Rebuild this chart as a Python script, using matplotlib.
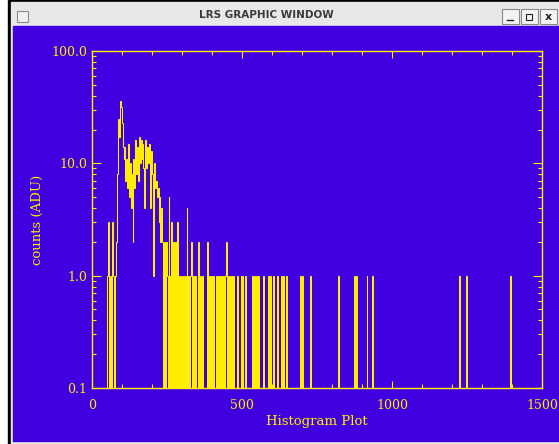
import numpy as np
import matplotlib
matplotlib.use("Agg")
import matplotlib.pyplot as plt
from matplotlib.patches import Rectangle
from matplotlib.ticker import MultipleLocator, LogLocator, NullFormatter

BLUE = "#4000e0"
YELLOW = "#ffee00"

# histogram: 3 ADU bins from 0 to 1500
bin_width = 3
x_max = 1500

# counts for the bins starting at 45 ADU (one value per bin)
dense_start = 45
dense_counts = [
    0, 0, 1, 3, 0, 1, 0, 3, 1, 0,
    0, 1, 2, 8, 25, 17, 36, 32, 23, 14,
    11, 14, 7, 11, 6, 15, 5, 10, 4, 8,
    2, 11, 6, 16, 8, 14, 7, 17, 10, 16,
    11, 15, 9, 4, 16, 9, 14, 10, 15, 4,
    9, 13, 8, 1, 10, 6, 7, 5, 6, 3,
    5, 2, 4, 2, 0, 2, 0, 2, 1, 0,
    5, 1, 0, 3, 0, 2, 0, 2, 0, 3,
    0, 1, 0, 1, 0, 1, 0, 1, 0, 1,
    4, 0, 1, 0, 1, 2, 0, 1, 0, 1,
    0, 0, 0, 2, 0, 1, 0, 1, 0, 0,
    0, 0, 0, 2, 0, 1, 0, 1, 0, 1,
    0, 0, 0, 1, 0, 1, 0, 1, 0, 1,
    0, 1, 0, 1, 2, 0, 1, 0, 1, 0,
    1, 0, 1, 0, 0, 0, 1, 0, 0, 0,
    1, 0, 1, 0,
]

# sparse tail: isolated bins (start ADU) and their counts
tail_adu = [510, 534, 540, 546, 552, 570, 588, 594, 603, 618, 630, 636,
            648, 693, 699, 726, 819, 873, 879, 915, 933, 1224, 1248, 1392]
tail_counts = [1] * len(tail_adu)

ytick_vals = [0.1, 1, 10, 100]
ytick_labels = ["0.1", "1.0", "10.0", "100.0"]
xtick_vals = [0, 500, 1000, 1500]

edges = np.arange(0, x_max + bin_width, bin_width)
counts = np.zeros(len(edges) - 1)
i0 = dense_start // bin_width
counts[i0:i0 + len(dense_counts)] = dense_counts
for a, c in zip(tail_adu, tail_counts):
    counts[a // bin_width] = c
# empty bins drop below the log axis
shown = np.where(counts > 0, counts, 0.01)

fig = plt.figure(figsize=(5.59, 4.44), dpi=100)
fig.patch.set_facecolor("white")

# ---- window frame, drawn in pixel coordinates
bg = fig.add_axes([0, 0, 1, 1], zorder=-1)
bg.set_xlim(0, 559)
bg.set_ylim(444, 0)
bg.axis("off")
bg.add_patch(Rectangle((8, 0), 551, 444, color="black"))
bg.add_patch(Rectangle((11, 2), 548, 442, color="#e8e8e8"))
bg.add_patch(Rectangle((13, 26), 546, 415, color=BLUE))
bg.text(266, 14.5, "LRS GRAPHIC WINDOW", ha="center", va="center",
        fontsize=7.5, fontweight="bold", color="#3a3a3a")
bg.add_patch(Rectangle((16.5, 11.5), 11, 11, fc="#f0f0f0", ec="#8a8a8a", lw=0.8))
for bx in [501.5, 520.5, 539.5]:
    bg.add_patch(Rectangle((bx, 9.5), 17, 15, fc="#f4f4f4", ec="#8a8a8a", lw=0.8))
bg.plot([507, 513], [20, 20], color="#222222", lw=1)
bg.add_patch(Rectangle((526, 14), 6, 6, fill=False, ec="#222222", lw=0.8))
bg.text(548, 17, "x", ha="center", va="center", fontsize=8,
        fontweight="bold", color="#222222")

# ---- the plot
ax = fig.add_axes([92 / 559, 56 / 444, 450 / 559, 337 / 444])
ax.set_facecolor(BLUE)
ax.stairs(shown, edges, baseline=None, color=YELLOW, lw=0.75)
ax.set_yscale("log")
ax.set_xlim(0, x_max)
ax.set_ylim(0.1, 100)

ax.set_yticks(ytick_vals, ytick_labels)
ax.yaxis.set_minor_locator(LogLocator(base=10, subs=range(2, 10)))
ax.yaxis.set_minor_formatter(NullFormatter())
ax.set_xticks(xtick_vals)
ax.xaxis.set_minor_locator(MultipleLocator(100))

ax.tick_params(which="both", direction="in", top=True, right=True,
               colors=YELLOW, width=0.8)
ax.tick_params(axis="y", which="major", length=6.5, pad=3.6)
ax.tick_params(axis="x", which="major", length=5, pad=8)
ax.tick_params(which="minor", length=3)
for lab in ax.get_xticklabels() + ax.get_yticklabels():
    lab.set_family("DejaVu Serif")
    lab.set_fontsize(9)
for sp in ax.spines.values():
    sp.set_color(YELLOW)
    sp.set_linewidth(1.0)

ax.set_xlabel("Histogram Plot", family="DejaVu Serif", fontsize=9.5,
              color=YELLOW, va="center")
ax.xaxis.set_label_coords(0.5, -0.098)
ax.set_ylabel("counts (ADU)", family="DejaVu Serif", fontsize=9.5,
              color=YELLOW, va="center")
ax.yaxis.set_label_coords(-0.122, 0.5)

fig.savefig("out.png", dpi=100, facecolor=fig.get_facecolor())
